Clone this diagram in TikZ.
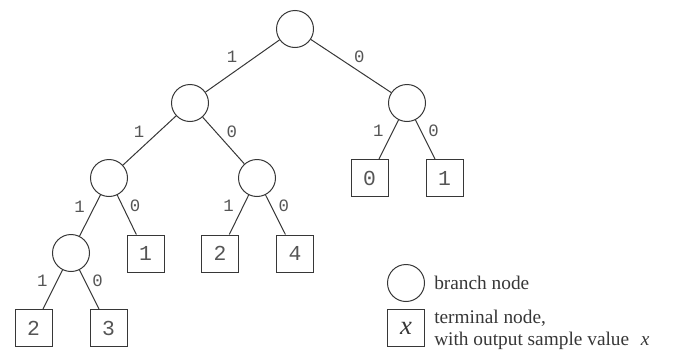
\documentclass[tikz,border=0pt]{standalone}
\usepackage{fontspec}
\setmainfont{Liberation Serif}
\setmonofont{Liberation Mono}
\definecolor{linegray}{RGB}{55,55,55}
\definecolor{labelgray}{RGB}{85,85,85}
\tikzset{
  branch/.style={circle, draw=linegray, line width=0.75, minimum size=27.75pt, inner sep=0pt},
  terminal/.style={rectangle, draw=linegray, line width=0.75, minimum size=27.75pt, inner sep=0pt,
    text=labelgray, font=\ttfamily\fontsize{16}{19}\selectfont},
  edge/.style={draw=linegray, line width=0.75},
  lbl/.style={inner sep=2pt, text=labelgray, font=\ttfamily\fontsize{13}{15}\selectfont},
  lblleft/.style={lbl, above left, xshift=-1.5pt},
  lblright/.style={lbl, above right},
  legendtext/.style={anchor=west, inner sep=0pt, align=left, text=linegray, font=\fontsize{14.5}{16.5}\selectfont}
}
\begin{document}
\begin{tikzpicture}[x=0.75pt,y=0.75pt,yscale=-1,xscale=1]
\useasboundingbox (0,0) rectangle (678,350);

%Shape: Circle [root]
\node [branch] (n) at (295,29) {};
%Shape: Circle
\node [branch] (n1) at (190,103) {};
%Shape: Circle
\node [branch] (n0) at (407,103) {};
%Shape: Circle
\node [branch] (n11) at (109,178) {};
%Shape: Circle
\node [branch] (n10) at (257,178) {};
%Shape: Circle
\node [branch] (n111) at (71,253) {};

%Shape: Square
\node [terminal] (n01) at (369.5,178) {0};
%Shape: Square
\node [terminal] (n00) at (444.5,178) {1};
%Shape: Square
\node [terminal] (n110) at (145.5,253.5) {1};
%Shape: Square
\node [terminal] (n101) at (220,253.5) {2};
%Shape: Square
\node [terminal] (n100) at (295,253.5) {4};
%Shape: Square
\node [terminal] (n1111) at (33.5,328) {2};
%Shape: Square
\node [terminal] (n1110) at (108.5,328) {3};

%Straight Lines
\draw [edge] (n) -- node [lblleft] {1} (n1);
\draw [edge] (n) -- node [lblright] {0} (n0);
\draw [edge] (n1) -- node [lblleft] {1} (n11);
\draw [edge] (n1) -- node [lblright] {0} (n10);
\draw [edge] (n0) -- node [lblleft] {1} (n01);
\draw [edge] (n0) -- node [lblright] {0} (n00);
\draw [edge] (n11) -- node [lblleft] {1} (n111);
\draw [edge] (n11) -- node [lblright] {0} (n110);
\draw [edge] (n10) -- node [lblleft] {1} (n101);
\draw [edge] (n10) -- node [lblright] {0} (n100);
\draw [edge] (n111) -- node [lblleft] {1} (n1111);
\draw [edge] (n111) -- node [lblright] {0} (n1110);

%Legend
\node [branch] (keybranch) at (406,283) {};
\node [terminal, text=linegray, font=\fontsize{20}{22}\selectfont] (keyterminal) at (406,328) {\textit{x}};
% Text Node
\node [legendtext] (keybranchtext) at (434,283) {branch node};
% Text Node
\node [legendtext] (keyterminaltext) at (434,330) {terminal node,\\with output sample value\hspace{0.6em}\textit{x}};

\end{tikzpicture}
\end{document}
